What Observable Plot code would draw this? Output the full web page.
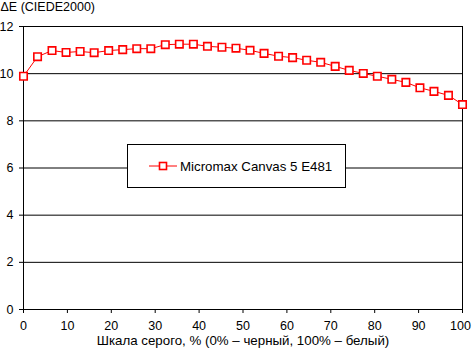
<!DOCTYPE html>
<html>
<head>
<meta charset="utf-8">
<script src="https://cdn.jsdelivr.net/npm/d3@7"></script>
<script src="https://cdn.jsdelivr.net/npm/@observablehq/plot@0.6"></script>
<style>
  html, body { margin: 0; padding: 0; background: #fff; }
  #wrap { position: relative; width: 472px; height: 352px; font-family: Arial, "Liberation Sans", sans-serif; }
  #legend { position: absolute; left: 127px; top: 144px; width: 217px; height: 42px; border: 1px solid #000; background: #fff;
    display: flex; align-items: center; font-size: 13.3px; color: #000; }
  #legend svg { margin-left: 21px; margin-right: 3px; }
</style>
</head>
<body>
<div id="wrap"></div>
<script>
const grayPercent = [0, 3.2, 6.5, 9.7, 12.9, 16.1, 19.4, 22.6, 25.8, 29.0, 32.3, 35.5, 38.7, 41.9, 45.2, 48.4,
  51.6, 54.8, 58.1, 61.3, 64.5, 67.7, 71.0, 74.2, 77.4, 80.6, 83.9, 87.1, 90.3, 93.5, 96.8, 100];
const deltaE = [9.89, 10.72, 10.98, 10.90, 10.94, 10.89, 10.98, 11.02, 11.06, 11.06, 11.23, 11.25, 11.25, 11.16, 11.12, 11.08,
  10.99, 10.86, 10.74, 10.68, 10.57, 10.48, 10.31, 10.14, 10.01, 9.89, 9.76, 9.63, 9.40, 9.25, 9.08, 8.69];
const seriesName = "Micromax Canvas 5 E481";
const xTicks = [0, 10, 20, 30, 40, 50, 60, 70, 80, 90, 100];
const yTicks = [0, 2, 4, 6, 8, 10, 12];
const yTitle = "ΔE (CIEDE2000)";
const xTitle = "Шкала серого, % (0% – черный, 100% – белый)";

const data = grayPercent.map((x, i) => ({x, y: deltaE[i]}));
const red = "#ff0000";
const fs = 13.3;
const tfs = 12.5;
const lastTick = xTicks[xTicks.length - 1];

const chart = Plot.plot({
  width: 472,
  height: 352,
  marginLeft: 23,
  marginRight: 10,
  marginTop: 26,
  marginBottom: 43,
  style: {fontFamily: 'Arial, "Liberation Sans", sans-serif', fontSize: fs + "px", color: "#000", background: "#fff", overflow: "visible"},
  x: {domain: [0, 100]},
  y: {domain: [0, 12]},
  marks: [
    Plot.gridY(yTicks, {stroke: "#000", strokeOpacity: 1, strokeWidth: 1}),
    Plot.ruleX([100], {stroke: "#000", strokeWidth: 1}),
    Plot.ruleX([0], {stroke: "#000", strokeWidth: 1}),
    Plot.ruleY([0], {stroke: "#000", strokeWidth: 1}),
    Plot.axisX({ticks: xTicks, tickSize: 4, text: null, label: null}),
    Plot.axisX({ticks: xTicks.slice(0, -1), tickSize: 0, tickPadding: 12, fontSize: tfs, label: null}),
    Plot.axisX({ticks: [lastTick], tickSize: 0, tickPadding: 12, fontSize: tfs, dx: -2, label: null}),
    Plot.axisY({ticks: yTicks, tickSize: 4, tickPadding: 6, fontSize: tfs, label: null}),
    Plot.text([yTitle], {frameAnchor: "top-left", dx: -23, dy: -20, textAnchor: "start", lineAnchor: "middle", fontSize: 12.5, fill: "#000"}),
    Plot.text([xTitle], {frameAnchor: "bottom", dy: 31, lineAnchor: "middle", fontSize: fs, fill: "#000"}),
    Plot.line(data, {x: "x", y: "y", stroke: red, strokeWidth: 1}),
    Plot.dot(data, {x: "x", y: "y", symbol: "square", r: 4.2, stroke: red, strokeWidth: 1.6, fill: "#fff"})
  ]
});

const wrap = document.getElementById("wrap");
wrap.appendChild(chart);

const legend = document.createElement("div");
legend.id = "legend";
legend.innerHTML = `<svg width="28" height="12" viewBox="0 0 28 12">
  <line x1="0" y1="6" x2="28" y2="6" stroke="${red}" stroke-width="1"/>
  <rect x="10.5" y="2.5" width="7" height="7" fill="#fff" stroke="${red}" stroke-width="1.6"/>
</svg><span>${seriesName}</span>`;
wrap.appendChild(legend);
</script>
</body>
</html>
